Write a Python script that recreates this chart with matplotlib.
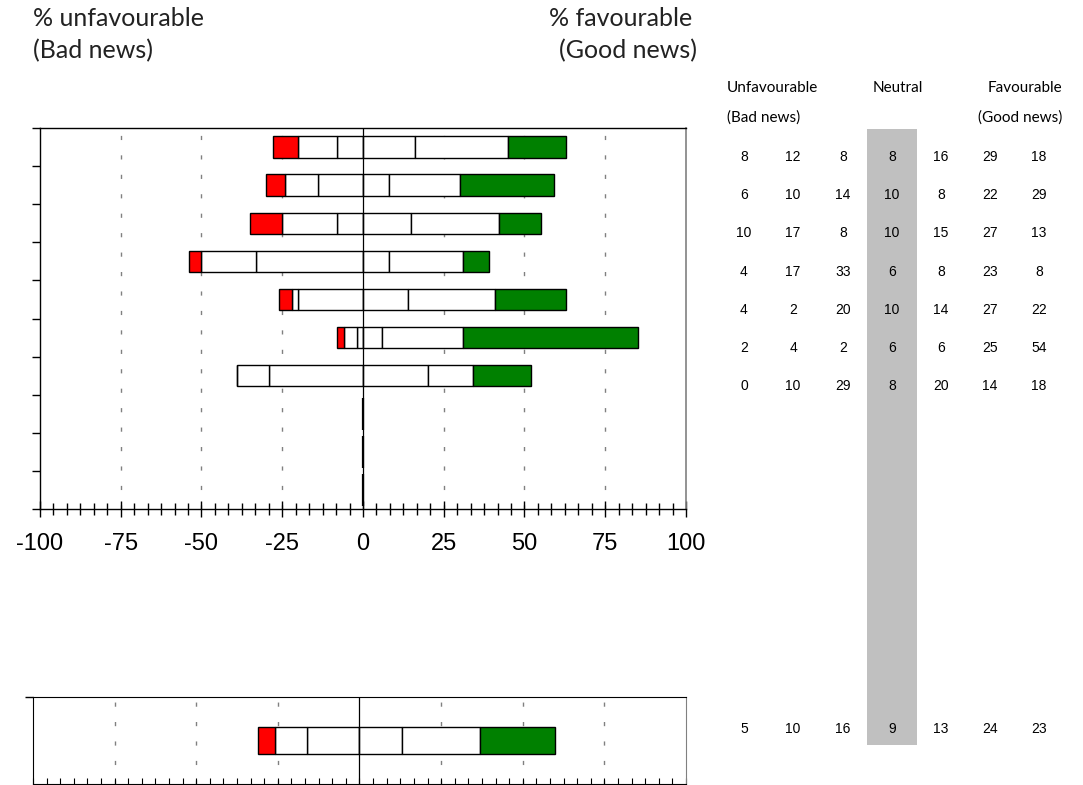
import matplotlib
matplotlib.use("Agg")
import matplotlib.pyplot as plt
from matplotlib.patches import Rectangle
from matplotlib.ticker import MultipleLocator
import numpy as np

# ---- data ----
unfav1 = [8, 6, 10, 4, 4, 2, 0]      # most unfavourable (red)
unfav2 = [12, 10, 17, 17, 2, 4, 10]
unfav3 = [8, 14, 8, 33, 20, 2, 29]
neutral = [8, 10, 10, 6, 10, 6, 8]
fav1 = [16, 8, 15, 8, 14, 6, 20]
fav2 = [29, 22, 27, 23, 27, 25, 14]
fav3 = [18, 29, 13, 8, 22, 54, 18]   # most favourable (green)
n_slots = 10

total = [5, 10, 16, 9, 13, 24, 23]   # unfav1, unfav2, unfav3, neutral, fav1, fav2, fav3

xticks = [-100, -75, -50, -25, 0, 25, 50, 75, 100]

W, H = 1083, 785
fig = plt.figure(figsize=(W / 100, H / 100), dpi=100)

def fx(px):
    return px / W

def fy(py):
    return 1 - py / H

RED = "#ff0000"
GREEN = "#008000"
GRID = "#808080"
dash = (0, (3, 11))

def draw_row(ax, y, vals, h):
    u1, u2, u3, nn, f1, f2, f3 = vals
    # left side (unfavourable): u3 closest to zero, u1 outermost
    ax.barh(y, -u3, left=0, height=h, color="white", edgecolor="black", lw=1, zorder=3)
    ax.barh(y, -u2, left=-u3, height=h, color="white", edgecolor="black", lw=1, zorder=3)
    ax.barh(y, -u1, left=-u3 - u2, height=h, color=RED, edgecolor="black", lw=1, zorder=3)
    # right side (favourable)
    ax.barh(y, f1, left=0, height=h, color="white", edgecolor="black", lw=1, zorder=3)
    ax.barh(y, f2, left=f1, height=h, color="white", edgecolor="black", lw=1, zorder=3)
    ax.barh(y, f3, left=f1 + f2, height=h, color=GREEN, edgecolor="black", lw=1, zorder=3)

# ---- main axes ----
ax = fig.add_axes([fx(40), fy(509), fx(686) - fx(40), fy(128) - fy(509)])
rows = list(zip(unfav1, unfav2, unfav3, neutral, fav1, fav2, fav3))
for i, vals in enumerate(rows):
    draw_row(ax, i + 0.5, vals, 0.56)
for i in range(len(rows), n_slots):
    ax.barh(i + 0.5, 0, left=0, height=0.85, color="white", edgecolor="black", lw=1.6, zorder=3)

ax.set_xlim(-100, 100)
ax.set_ylim(n_slots, 0)
for g in [-75, -50, -25, 25, 50, 75]:
    ax.axvline(g, color=GRID, lw=1, ls=dash, zorder=1)
ax.axvline(0, color="black", lw=0.9, zorder=4)

ax.set_xticks(xticks)
ax.set_xticklabels([str(t) for t in xticks], family="Liberation Sans", fontsize=17)
ax.xaxis.set_minor_locator(MultipleLocator(25 / 6))
ax.tick_params(axis="x", which="major", direction="inout", length=11, width=1, pad=12)
ax.tick_params(axis="x", which="minor", direction="inout", length=8, width=1)
ax.set_yticks(np.arange(0, n_slots + 1))
ax.set_yticklabels([])
ax.tick_params(axis="y", direction="out", length=6, width=1)
for s in ["left", "top", "bottom"]:
    ax.spines[s].set_color("black")
    ax.spines[s].set_linewidth(1)
ax.spines["right"].set_color("#808080")
ax.spines["right"].set_linewidth(1.2)

# ---- bottom (total) axes ----
ax2 = fig.add_axes([fx(33), fy(784), fx(686) - fx(33), fy(697) - fy(784)])
draw_row(ax2, 0.5, total, 0.31)
ax2.set_xlim(-100, 100)
ax2.set_ylim(0, 1)
for g in [-75, -50, -25, 25, 50, 75]:
    ax2.axvline(g, color=GRID, lw=1, ls=dash, zorder=1)
ax2.axvline(0, color="black", lw=0.9, zorder=4)
ax2.set_xticks(xticks)
ax2.set_xticklabels([])
ax2.xaxis.set_minor_locator(MultipleLocator(25 / 6))
ax2.tick_params(axis="x", which="both", direction="in", length=4, width=0.8)
ax2.set_yticks([1])
ax2.set_yticklabels([])
ax2.tick_params(axis="y", direction="out", length=6, width=1)
ax2.spines["right"].set_color("#808080")

# ---- titles ----
tfont = dict(family="Lato", fontsize=18, color="#222222")
fig.text(fx(33), fy(19), "% unfavourable", ha="left", va="center", **tfont)
fig.text(fx(33), fy(51), "(Bad news)", ha="left", va="center", **tfont)
fig.text(fx(692), fy(19), "% favourable", ha="right", va="center", **tfont)
fig.text(fx(697), fy(51), "(Good news)", ha="right", va="center", **tfont)

# ---- table on the right ----
fig.patches.append(Rectangle((fx(867), fy(745)), fx(917) - fx(867), fy(129) - fy(745),
                             transform=fig.transFigure, facecolor="#c0c0c0",
                             edgecolor="none", zorder=0))
hfont = dict(family="Lato", fontsize=11, color="black")
fig.text(fx(727), fy(88), "Unfavourable", ha="left", va="center", **hfont)
fig.text(fx(898), fy(88), "Neutral", ha="center", va="center", **hfont)
fig.text(fx(1062), fy(88), "Favourable", ha="right", va="center", **hfont)
fig.text(fx(727), fy(118), "(Bad news)", ha="left", va="center", **hfont)
fig.text(fx(1062), fy(118), "(Good news)", ha="right", va="center", **hfont)

col_x = [744, 793, 843, 892, 941, 990, 1039]
nfont = dict(family="Liberation Sans", fontsize=10, color="black")
for i, vals in enumerate(rows):
    y = 157 + i * 38.2
    for cx, v in zip(col_x, vals):
        fig.text(fx(cx), fy(y), str(v), ha="center", va="center", **nfont)
for cx, v in zip(col_x, total):
    fig.text(fx(cx), fy(729), str(v), ha="center", va="center", **nfont)

fig.savefig("out.png", dpi=100)
